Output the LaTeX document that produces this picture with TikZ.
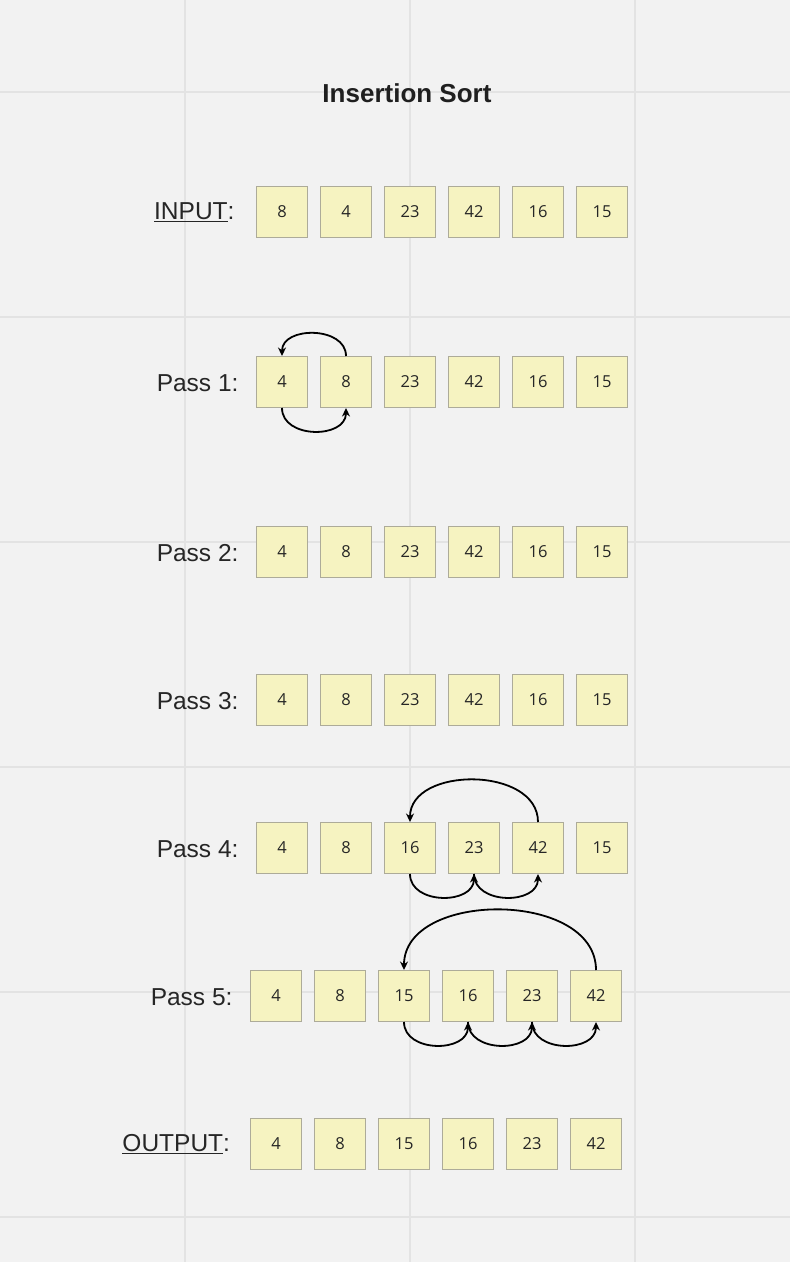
\documentclass[tikz,border=0pt]{standalone}
\usepackage{fontspec}
\setmainfont{Liberation Sans}
\newfontfamily\numfont{Open Sans}
\usepackage{xcolor}
\usepackage{tikz}
\usetikzlibrary{arrows.meta}

\definecolor{bgcol}{HTML}{F2F2F2}
\definecolor{gridcol}{HTML}{E3E3E3}
\definecolor{notefill}{HTML}{F6F3C1}
\definecolor{notedraw}{HTML}{ADAB99}

\begin{document}
\begin{tikzpicture}[
    x=1pt, y=-1pt,
    cell/.style={rectangle, draw=notedraw, fill=notefill, line width=1pt,
                 minimum size=51pt, inner sep=0pt,
                 font=\numfont\fontsize{16.5}{20}\selectfont, text=black!85},
    rowlabel/.style={anchor=east, font=\fontsize{24.5}{29}\selectfont, text=black!85},
    gridline/.style={gridcol, line width=1.6pt},
    swap/.style={-{Stealth[length=8.5pt,width=8pt]}, line width=1.8pt}
]

% Canvas and background grid
\fill[bgcol] (0,0) rectangle (790,1262);
\useasboundingbox (0,0) rectangle (790,1262);
\foreach \gx in {185,410,635}
    \draw[gridline] (\gx,0) -- (\gx,1262);
\foreach \gy in {92,317,542,767,992,1217}
    \draw[gridline] (0,\gy) -- (790,\gy);

\node[font=\bfseries\fontsize{26}{31}\selectfont, text=black!88] (title) at (407,93) {Insertion Sort};

% Rows of cards
\foreach \r/\y/\x/\vals in {in/212/282/{8,4,23,42,16,15},
                          p1/382/282/{4,8,23,42,16,15},
                          p2/552/282/{4,8,23,42,16,15},
                          p3/700/282/{4,8,23,42,16,15},
                          p4/848/282/{4,8,16,23,42,15},
                          p5/996/276/{4,8,15,16,23,42},
                          out/1144/276/{4,8,15,16,23,42}}
    \foreach \v [count=\i] in \vals
        \node[cell] (\r-\i) at ({\x+64*(\i-1)},\y) {\v};

% Row labels
\node[rowlabel] (lin) at (238,212) {\underline{INPUT}:};
\node[rowlabel] (lp1) at (242,383) {Pass 1:};
\node[rowlabel] (lp2) at (242,553) {Pass 2:};
\node[rowlabel] (lp3) at (242,701) {Pass 3:};
\node[rowlabel] (lp4) at (242,849) {Pass 4:};
\node[rowlabel] (lp5) at (236,997) {Pass 5:};
\node[rowlabel] (lout) at (233.5,1144) {\underline{OUTPUT}:};

% Pass 1 swaps
\draw[swap] (p1-2.north) .. controls +(0,-30) and +(0,-30) .. (p1-1.north);
\draw[swap] (p1-1.south) .. controls +(0,31) and +(0,31) .. (p1-2.south);

% Pass 4 shifts
\draw[swap] (p4-5.north) .. controls +(0,-56) and +(0,-56) .. (p4-3.north);
\draw[swap] (p4-3.south) .. controls +(0,31) and +(0,31) .. (p4-4.south);
\draw[swap] (p4-4.south) .. controls +(0,31) and +(0,31) .. (p4-5.south);

% Pass 5 shifts
\draw[swap] (p5-6.north) .. controls +(0,-80) and +(0,-80) .. (p5-3.north);
\draw[swap] (p5-3.south) .. controls +(0,31) and +(0,31) .. (p5-4.south);
\draw[swap] (p5-4.south) .. controls +(0,31) and +(0,31) .. (p5-5.south);
\draw[swap] (p5-5.south) .. controls +(0,31) and +(0,31) .. (p5-6.south);

\end{tikzpicture}
\end{document}
